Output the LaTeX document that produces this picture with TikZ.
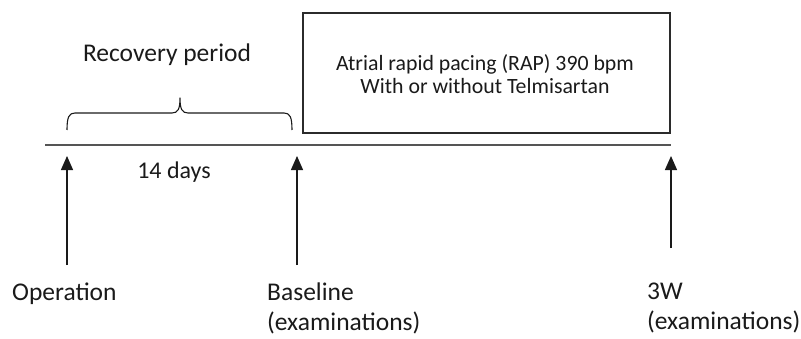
\documentclass[tikz,border=0pt]{standalone}
\usepackage{fontspec}
\setmainfont{Carlito}
\usepackage{xcolor}
\usetikzlibrary{arrows.meta}
\definecolor{ink}{HTML}{1A1A1A}
\definecolor{frame}{HTML}{2B2B2B}
\definecolor{rule}{HTML}{555555}
\tikzset{
  axis/.style={draw=rule, line width=1.3pt},
  phase/.style={draw=frame, line width=2.4pt},
  curly/.style={draw=ink, line width=1.1pt, line join=round},
  marker/.style={draw=ink, line width=1.3pt, -{Triangle[width=12pt,length=14pt]}},
  lab/.style={text=ink, font=\fontsize{25.5}{30}\selectfont, align=left, inner sep=0pt},
  boxlab/.style={text=ink, font=\fontsize{21.8}{23}\selectfont, align=center, inner sep=0pt},
}

\begin{document}
\begin{tikzpicture}[x=1pt,y=1pt]
  \useasboundingbox (0,0) rectangle (801,338);

  % time axis
  \coordinate (t0) at (45,193);
  \coordinate (t1) at (671,193);
  \draw[axis] (t0) -- (t1);

  % RAP phase
  \draw[phase] (303,205) rectangle (670,325);
  \node[boxlab] (rap) at (485,264) {Atrial rapid pacing (RAP) 390 bpm\\With or without Telmisartan};

  % recovery brace
  \draw[curly] (67,208) .. controls (67,221) and (69,225) .. (75,225) -- (172,225)
    .. controls (178,225) and (180,229) .. (180,240)
    .. controls (180,229) and (182,225) .. (188,225) -- (284,225)
    .. controls (290,225) and (292,221) .. (292,208);
  \node[lab] (rec) at (167,283) {Recovery period};
  \node[lab,font=\fontsize{24}{29}\selectfont] (days) at (174,166) {14 days};

  % time points
  \coordinate (op0) at (67,73);   \coordinate (op1) at (67,182);
  \coordinate (bl0) at (297,73);  \coordinate (bl1) at (297,182);
  \coordinate (w30) at (671,90);  \coordinate (w31) at (671,182);
  \draw[marker] (op0) -- (op1);
  \draw[marker] (bl0) -- (bl1);
  \draw[marker] (w30) -- (w31);

  \node[lab,anchor=west] (op) at (12,44) {Operation};
  \node[lab,anchor=west] (bl) at (267,30) {Baseline\\(examinations)};
  \node[lab,anchor=west] (w3) at (647,30) {3W\\(examinations)};
\end{tikzpicture}
\end{document}
